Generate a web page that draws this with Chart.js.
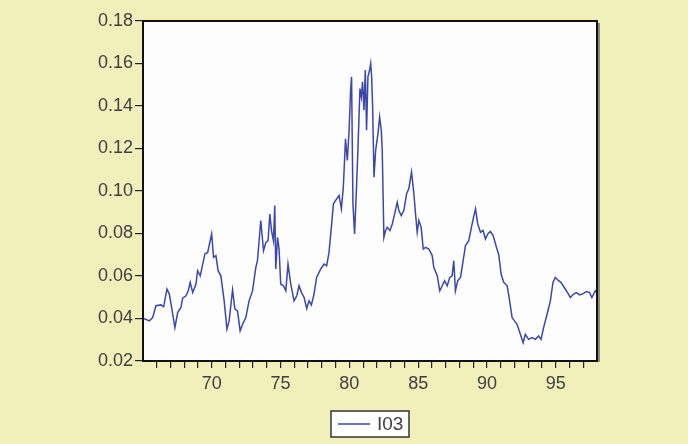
<!DOCTYPE html>
<html>
<head>
<meta charset="utf-8">
<script src="https://cdn.jsdelivr.net/npm/chart.js@4/dist/chart.umd.min.js"></script>
<style>
  html, body { margin: 0; padding: 0; background: #f1efba; }
  #wrap { width: 688px; height: 444px; }
</style>
</head>
<body>
<div id="wrap"><canvas id="chart" width="688" height="444"></canvas></div>
<script>
// series I03, x in years (65 = 1965)
const years = [
  65.00, 65.46, 65.70, 65.94, 66.31, 66.50, 66.74, 66.91, 67.08, 67.32,
  67.52, 67.76, 67.88, 68.12, 68.29, 68.43, 68.61, 68.85, 68.97, 69.16,
  69.50, 69.70, 69.99, 70.13, 70.30, 70.46, 70.66, 70.90, 71.10, 71.26,
  71.51, 71.68, 71.87, 72.06, 72.24, 72.47, 72.71, 72.96, 73.20, 73.32,
  73.56, 73.76, 73.93, 74.09, 74.22, 74.34, 74.48, 74.58, 74.65, 74.78,
  74.89, 75.01, 75.21, 75.38, 75.54, 75.74, 75.98, 76.18, 76.34, 76.52,
  76.71, 76.90, 77.07, 77.24, 77.43, 77.62, 77.92, 78.16, 78.35, 78.52,
  78.69, 78.84, 79.08, 79.25, 79.42, 79.56, 79.65, 79.72, 79.85, 79.97,
  80.09, 80.16, 80.26, 80.38, 80.53, 80.62, 80.77, 80.87, 80.96, 81.06,
  81.16, 81.25, 81.35, 81.47, 81.55, 81.62, 81.69, 81.79, 81.91, 82.08,
  82.20, 82.32, 82.39, 82.51, 82.63, 82.75, 82.95, 83.12, 83.29, 83.48,
  83.60, 83.77, 83.96, 84.16, 84.32, 84.52, 84.69, 84.81, 84.93, 85.05,
  85.22, 85.37, 85.54, 85.78, 86.02, 86.14, 86.39, 86.57, 86.75, 86.92,
  87.11, 87.30, 87.47, 87.59, 87.71, 87.88, 88.08, 88.27, 88.44, 88.68,
  88.85, 89.00, 89.17, 89.33, 89.53, 89.72, 89.89, 90.06, 90.25, 90.45,
  90.69, 90.86, 91.03, 91.22, 91.47, 91.65, 91.83, 92.00, 92.19, 92.43,
  92.63, 92.79, 93.03, 93.28, 93.52, 93.76, 93.93, 94.12, 94.37, 94.61,
  94.80, 94.97, 95.21, 95.38, 95.62, 95.86, 96.06, 96.30, 96.50, 96.74,
  97.03, 97.22, 97.46, 97.63, 97.87, 98.00
];
const i03 = [
  0.0402, 0.0389, 0.0404, 0.0460, 0.0464, 0.0455, 0.0538, 0.0516, 0.0452, 0.0357,
  0.0428, 0.0452, 0.0496, 0.0507, 0.0530, 0.0570, 0.0522, 0.0562, 0.0625, 0.0601,
  0.0704, 0.0711, 0.0798, 0.0688, 0.0696, 0.0625, 0.0601, 0.0483, 0.0350, 0.0389,
  0.0534, 0.0444, 0.0436, 0.0342, 0.0373, 0.0404, 0.0483, 0.0530, 0.0640, 0.0672,
  0.0861, 0.0719, 0.0758, 0.0766, 0.0892, 0.0814, 0.0766, 0.0932, 0.0633, 0.0782,
  0.0727, 0.0562, 0.0554, 0.0530, 0.0656, 0.0562, 0.0483, 0.0507, 0.0554, 0.0522,
  0.0499, 0.0447, 0.0483, 0.0464, 0.0515, 0.0593, 0.0633, 0.0656, 0.0648, 0.0711,
  0.0829, 0.0940, 0.0963, 0.0979, 0.0916, 0.1018, 0.1144, 0.1246, 0.1144, 0.1270,
  0.1474, 0.1537, 0.0940, 0.0798, 0.1034, 0.1191, 0.1482, 0.1443, 0.1514, 0.1380,
  0.1569, 0.1286, 0.1537, 0.1569, 0.1600, 0.1537, 0.1396, 0.1065, 0.1191, 0.1270,
  0.1348, 0.1286, 0.1191, 0.0782, 0.0814, 0.0829, 0.0814, 0.0845, 0.0892, 0.0947,
  0.0908, 0.0884, 0.0908, 0.0987, 0.1010, 0.1089, 0.0987, 0.0892, 0.0806, 0.0861,
  0.0829, 0.0727, 0.0735, 0.0727, 0.0696, 0.0640, 0.0601, 0.0530, 0.0554, 0.0578,
  0.0554, 0.0593, 0.0601, 0.0672, 0.0530, 0.0578, 0.0593, 0.0672, 0.0743, 0.0766,
  0.0822, 0.0869, 0.0916, 0.0845, 0.0806, 0.0814, 0.0774, 0.0798, 0.0810, 0.0790,
  0.0735, 0.0700, 0.0609, 0.0570, 0.0554, 0.0483, 0.0404, 0.0389, 0.0373, 0.0326,
  0.0286, 0.0326, 0.0302, 0.0310, 0.0302, 0.0318, 0.0302, 0.0357, 0.0420, 0.0483,
  0.0570, 0.0593, 0.0578, 0.0570, 0.0546, 0.0522, 0.0499, 0.0515, 0.0522, 0.0511,
  0.0518, 0.0527, 0.0522, 0.0499, 0.0530, 0.0520
];
const yMin = 0.02, yMax = 0.18, yStep = 0.02;
const xMin = 65, xMax = 98;
const labelEvery = 5;

const textColor = '#404040';
const lineColor = '#3c47ad';
const tickFont = { family: 'Liberation Sans', size: 18 };

const framePlugin = {
  id: 'frame',
  beforeDraw(chart) {
    const { ctx, chartArea: a } = chart;
    ctx.save();
    ctx.fillStyle = '#f1efba';
    ctx.fillRect(0, 0, chart.width, chart.height);
    ctx.fillStyle = '#fdfdfe';
    ctx.fillRect(a.left, a.top, a.right - a.left, a.bottom - a.top);
    ctx.restore();
  },
  afterDatasetsDraw(chart) {
    const { ctx, chartArea: a } = chart;
    ctx.save();
    // soft shadow on right side
    ctx.strokeStyle = '#8c8c80';
    ctx.lineWidth = 2;
    ctx.beginPath();
    ctx.moveTo(a.right + 2, a.top + 2);
    ctx.lineTo(a.right + 2, a.bottom + 1);
    ctx.stroke();
    ctx.strokeStyle = '#111';
    ctx.lineWidth = 2;
    ctx.strokeRect(a.left, a.top, a.right - a.left, a.bottom - a.top);
    ctx.restore();
  },
  afterDraw(chart) {
    // boxed legend under the plot
    const ds = chart.data.datasets[0];
    const { ctx } = chart;
    const bx = 331, by = 411, bw = 78, bh = 26;
    ctx.save();
    ctx.fillStyle = '#ffffff';
    ctx.fillRect(bx, by, bw, bh);
    ctx.strokeStyle = '#333';
    ctx.lineWidth = 1.5;
    ctx.strokeRect(bx, by, bw, bh);
    ctx.strokeStyle = ds.borderColor;
    ctx.lineWidth = 1.5;
    ctx.beginPath();
    ctx.moveTo(bx + 7, by + 13);
    ctx.lineTo(bx + 39, by + 13);
    ctx.stroke();
    ctx.fillStyle = textColor;
    ctx.font = '19px "Liberation Sans"';
    ctx.textBaseline = 'middle';
    ctx.fillText(ds.label, bx + 46, by + 14);
    ctx.restore();
  }
};

new Chart(document.getElementById('chart'), {
  type: 'line',
  data: {
    datasets: [{
      label: 'I03',
      data: years.map((x, i) => ({ x: x, y: i03[i] })),
      borderColor: lineColor,
      borderWidth: 1.5,
      pointRadius: 0,
      tension: 0,
      fill: false
    }]
  },
  options: {
    responsive: false,
    animation: false,
    layout: { padding: { left: 0, top: 21, right: 91, bottom: 43 } },
    plugins: {
      legend: { display: false },
      tooltip: { enabled: false }
    },
    scales: {
      x: {
        type: 'linear',
        min: xMin,
        max: xMax,
        afterFit: (s) => { s.height = 40; },
        afterBuildTicks: (s) => {
          const t = [];
          for (let v = 66; v <= 97; v++) t.push({ value: v });
          s.ticks = t;
        },
        border: { display: false },
        grid: { drawOnChartArea: false, drawTicks: true, tickLength: 7, color: '#222', lineWidth: 1.2 },
        ticks: {
          autoSkip: false,
          maxRotation: 0,
          padding: 5,
          color: textColor,
          font: tickFont,
          callback: (v) => (v % labelEvery === 0 ? String(v) : '')
        }
      },
      y: {
        min: yMin,
        max: yMax,
        afterFit: (s) => { s.width = 143; },
        border: { display: false },
        grid: { drawOnChartArea: false, drawTicks: true, tickLength: 8, color: '#222', lineWidth: 1.2 },
        ticks: {
          stepSize: yStep,
          padding: 2,
          color: textColor,
          font: tickFont,
          callback: (v) => v.toFixed(2)
        }
      }
    }
  },
  plugins: [framePlugin]
});
</script>
</body>
</html>
